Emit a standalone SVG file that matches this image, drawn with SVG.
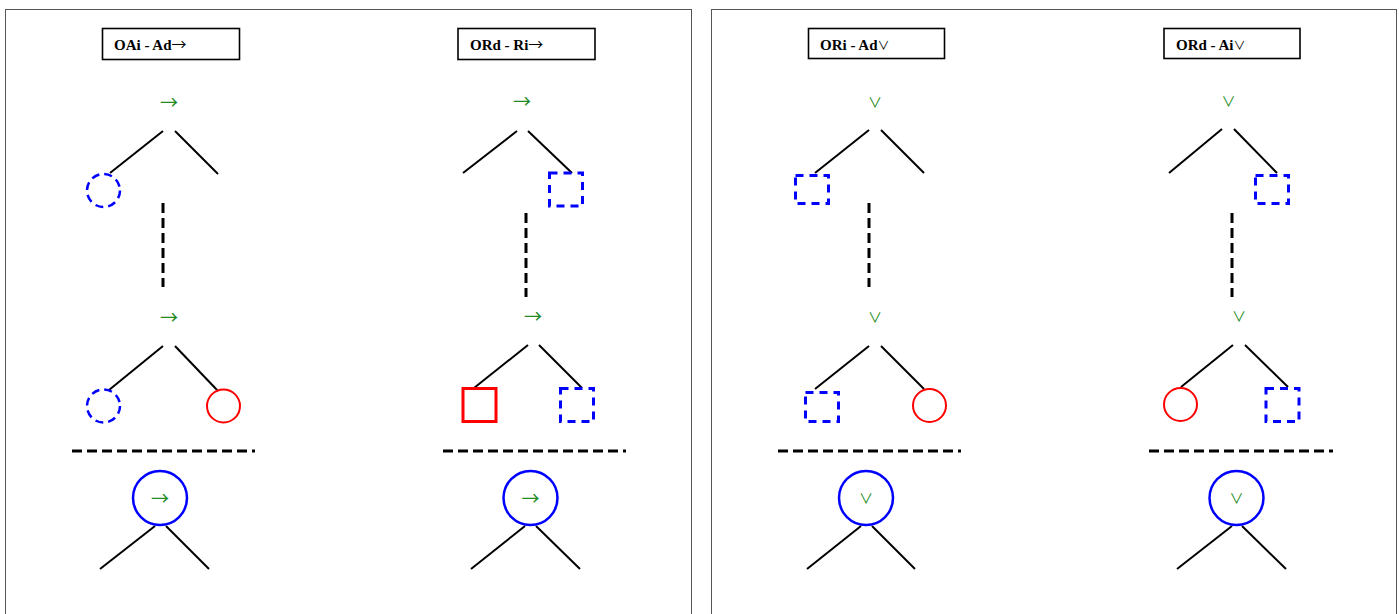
<svg xmlns="http://www.w3.org/2000/svg" width="1399" height="614" viewBox="0 0 1399 614">
<style>
.frame{fill:none;stroke:#555;stroke-width:1}
.title rect{fill:#fff;stroke:#000;stroke-width:1.6}
.title text{font-family:"Liberation Serif",serif;font-weight:bold;font-size:15px;fill:#000}
.title tspan.sym{font-family:"Noto Sans CJK JP","DejaVu Sans",sans-serif;font-weight:normal}
.title tspan.symv{font-family:"Noto Sans CJK JP","DejaVu Sans",sans-serif;font-weight:normal;font-size:12px}
.op{font-family:"Noto Sans CJK JP","DejaVu Sans",sans-serif;font-size:18px;fill:#228B22;text-anchor:middle}
.opv{font-family:"Noto Sans CJK JP","DejaVu Sans",sans-serif;font-size:14px;fill:#228B22;text-anchor:middle}
.branch{stroke:#000;stroke-width:2;fill:none}
.vdash{stroke:#000;stroke-width:3;stroke-dasharray:10 5;fill:none}
.hdash{stroke:#000;stroke-width:3;stroke-dasharray:10 5;fill:none}
.bcirc{fill:none;stroke:#00f;stroke-width:2.5;stroke-dasharray:8 5}
.bsq{fill:none;stroke:#00f;stroke-width:3;stroke-dasharray:8 6}
.rcirc{fill:none;stroke:#f00;stroke-width:2}
.rsq{fill:none;stroke:#f00;stroke-width:3}
.root{fill:#fff;stroke:#00f;stroke-width:2.5}
</style>
<rect width="1399" height="614" fill="#fff"/>
<rect class="frame" x="5.5" y="9.5" width="686" height="612"/>
<rect class="frame" x="711.5" y="9.5" width="685" height="612"/>

<g id="connectors">
  <!-- column 1 -->
  <line class="branch" x1="163" y1="131" x2="110" y2="173"/>
  <line class="branch" x1="175" y1="131" x2="218" y2="174"/>
  <line class="vdash" x1="163" y1="203" x2="163" y2="287"/>
  <line class="branch" x1="163" y1="346" x2="109" y2="390"/>
  <line class="branch" x1="175" y1="346" x2="218" y2="391"/>
  <line class="hdash" x1="72" y1="451" x2="255" y2="451"/>
  <line class="branch" x1="155" y1="526" x2="100" y2="569"/>
  <line class="branch" x1="166" y1="526" x2="209" y2="569"/>
  <!-- column 2 -->
  <line class="branch" x1="517" y1="131" x2="463" y2="173"/>
  <line class="branch" x1="528" y1="131" x2="572" y2="173"/>
  <line class="vdash" x1="526" y1="213" x2="526" y2="297"/>
  <line class="branch" x1="528" y1="345" x2="474" y2="388"/>
  <line class="branch" x1="539" y1="345" x2="582" y2="388"/>
  <line class="hdash" x1="443" y1="451" x2="626" y2="451"/>
  <line class="branch" x1="525" y1="526" x2="471" y2="569"/>
  <line class="branch" x1="536" y1="526" x2="580" y2="569"/>
  <!-- column 3 -->
  <line class="branch" x1="869" y1="130" x2="815" y2="173"/>
  <line class="branch" x1="881" y1="130" x2="924" y2="173"/>
  <line class="vdash" x1="869" y1="203" x2="869" y2="287"/>
  <line class="branch" x1="869" y1="346" x2="815" y2="389"/>
  <line class="branch" x1="881" y1="346" x2="924" y2="389"/>
  <line class="hdash" x1="778" y1="451" x2="961" y2="451"/>
  <line class="branch" x1="861" y1="526" x2="807" y2="569"/>
  <line class="branch" x1="872" y1="526" x2="915" y2="569"/>
  <!-- column 4 -->
  <line class="branch" x1="1222" y1="129" x2="1169" y2="173"/>
  <line class="branch" x1="1234" y1="129" x2="1277" y2="173"/>
  <line class="vdash" x1="1232" y1="213" x2="1232" y2="297"/>
  <line class="branch" x1="1233" y1="345" x2="1181" y2="387"/>
  <line class="branch" x1="1245" y1="345" x2="1288" y2="387"/>
  <line class="hdash" x1="1149" y1="451" x2="1333" y2="451"/>
  <line class="branch" x1="1232" y1="526" x2="1177" y2="569"/>
  <line class="branch" x1="1242" y1="526" x2="1286" y2="569"/>
</g>

<!-- column 1 -->
<g id="title1" class="title"><rect x="102.5" y="28.5" width="137" height="31"/><text x="114" y="50">OAi - Ad<tspan class="sym">→</tspan></text></g>
<g id="op1a"><text class="op" x="169" y="109">→</text></g>
<g id="leaf1a"><circle class="bcirc" cx="103.5" cy="190.5" r="16.5"/></g>
<g id="op1b"><text class="op" x="169" y="324">→</text></g>
<g id="leaf1b"><circle class="bcirc" cx="103.5" cy="406" r="16.5"/></g>
<g id="leaf1c"><circle class="rcirc" cx="223.5" cy="406" r="16.5"/></g>
<g id="root1"><circle class="root" cx="160" cy="498" r="27"/><text class="op" x="160" y="505">→</text></g>

<!-- column 2 -->
<g id="title2" class="title"><rect x="458" y="28.5" width="137" height="31"/><text x="470" y="50">ORd - Ri<tspan class="sym">→</tspan></text></g>
<g id="op2a"><text class="op" x="522" y="108">→</text></g>
<g id="leaf2a"><rect class="bsq" x="549.5" y="173" width="33" height="33"/></g>
<g id="op2b"><text class="op" x="533" y="323">→</text></g>
<g id="leaf2b"><rect class="rsq" x="463" y="388.5" width="33" height="33"/></g>
<g id="leaf2c"><rect class="bsq" x="560.5" y="388.5" width="33" height="33"/></g>
<g id="root2"><circle class="root" cx="530.5" cy="498" r="27"/><text class="op" x="530.5" y="505">→</text></g>

<!-- column 3 -->
<g id="title3" class="title"><rect x="808.5" y="28.5" width="136" height="30"/><text x="820" y="50">ORi - Ad<tspan class="symv">∨</tspan></text></g>
<g id="op3a"><text class="opv" x="875" y="107">∨</text></g>
<g id="leaf3a"><rect class="bsq" x="795.5" y="175.5" width="33" height="28"/></g>
<g id="op3b"><text class="opv" x="875" y="322">∨</text></g>
<g id="leaf3b"><rect class="bsq" x="805.5" y="392.5" width="33" height="29"/></g>
<g id="leaf3c"><circle class="rcirc" cx="929.5" cy="405.5" r="16.5"/></g>
<g id="root3"><circle class="root" cx="866" cy="498" r="27"/><text class="opv" x="866" y="503">∨</text></g>

<!-- column 4 -->
<g id="title4" class="title"><rect x="1164" y="28.5" width="136" height="30"/><text x="1176" y="50">ORd - Ai<tspan class="symv">∨</tspan></text></g>
<g id="op4a"><text class="opv" x="1228.5" y="106">∨</text></g>
<g id="leaf4a"><rect class="bsq" x="1255.5" y="175.5" width="33" height="28"/></g>
<g id="op4b"><text class="opv" x="1239" y="321">∨</text></g>
<g id="leaf4b"><circle class="rcirc" cx="1180.5" cy="404.5" r="16.5"/></g>
<g id="leaf4c"><rect class="bsq" x="1266" y="388.5" width="33" height="33"/></g>
<g id="root4"><circle class="root" cx="1236.5" cy="498" r="27"/><text class="opv" x="1236.5" y="503">∨</text></g>
</svg>
